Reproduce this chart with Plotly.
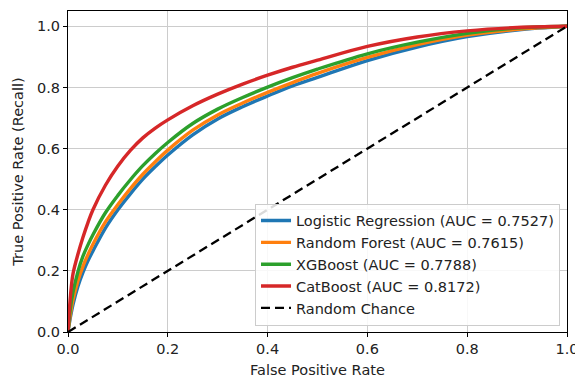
import plotly.graph_objects as go

fpr = [0, 0.005, 0.01, 0.02, 0.03, 0.04, 0.05, 0.075, 0.1, 0.125, 0.15, 0.175, 0.2, 0.25,
       0.3, 0.35, 0.4, 0.45, 0.5, 0.6, 0.7, 0.8, 0.9, 1.0]
tpr_lr = [0, 0.05, 0.09, 0.15, 0.195, 0.233, 0.265, 0.34, 0.40, 0.452, 0.50, 0.541, 0.579, 0.645,
          0.697, 0.737, 0.772, 0.805, 0.833, 0.888, 0.932, 0.966, 0.988, 1.0]
tpr_rf = [0, 0.06, 0.105, 0.168, 0.215, 0.253, 0.287, 0.36, 0.417, 0.469, 0.516, 0.557, 0.595, 0.66,
          0.71, 0.749, 0.784, 0.816, 0.846, 0.898, 0.94, 0.971, 0.99, 1.0]
tpr_xgb = [0, 0.08, 0.13, 0.198, 0.248, 0.285, 0.318, 0.39, 0.447, 0.498, 0.544, 0.584, 0.62, 0.682,
           0.729, 0.767, 0.801, 0.832, 0.86, 0.91, 0.948, 0.977, 0.994, 1.0]
tpr_cat = [0, 0.12, 0.19, 0.255, 0.31, 0.358, 0.40, 0.48, 0.543, 0.594, 0.635, 0.667, 0.694, 0.74,
           0.778, 0.811, 0.84, 0.866, 0.889, 0.934, 0.965, 0.985, 0.996, 1.0]
chance = [0, 1]

names = ["Logistic Regression (AUC = 0.7527)", "Random Forest (AUC = 0.7615)",
         "XGBoost (AUC = 0.7788)", "CatBoost (AUC = 0.8172)"]
colors = ["#1f77b4", "#ff7f0e", "#2ca02c", "#d62728"]
series = [tpr_lr, tpr_rf, tpr_xgb, tpr_cat]
ticks = [0, 0.2, 0.4, 0.6, 0.8, 1.0]

fig = go.Figure()
for name, col, ys in zip(names, colors, series):
    fig.add_trace(go.Scatter(x=fpr, y=ys, mode="lines", name=name,
                             line=dict(color=col, width=3.4, shape="spline", smoothing=1.0)))
fig.add_trace(go.Scatter(x=chance, y=chance, mode="lines", name="Random Chance",
                         line=dict(color="black", width=2.3, dash="9px,5px")))

font = dict(family="DejaVu Sans", size=14.5, color="#222")
axis_common = dict(showline=True, linecolor="black", linewidth=1, mirror=True,
                   ticks="outside", ticklen=4, tickcolor="black", tickwidth=1,
                   showgrid=True, gridcolor="#cccccc", gridwidth=1, zeroline=False,
                   tickvals=ticks, tickformat=".1f", tickfont=font,
                   ticklabeloverflow="allow", automargin=False)
fig.update_xaxes(range=[0, 1], title=dict(text="False Positive Rate", font=font, standoff=8),
                 **axis_common)
fig.update_yaxes(range=[0, 1.05], title=dict(text="True Positive Rate (Recall)", font=font, standoff=9),
                 **axis_common)
fig.update_layout(
    width=575, height=383,
    margin=dict(l=68, r=8, t=11, b=51),
    paper_bgcolor="white", plot_bgcolor="white",
    font=font, showlegend=True,
    legend=dict(x=0.986, y=0.02, xanchor="right", yanchor="bottom",
                bgcolor="rgba(255,255,255,0.85)", bordercolor="#cccccc", borderwidth=1,
                font=dict(family="DejaVu Sans", size=14.5, color="#222"),
                itemwidth=30, tracegroupgap=0),
)
fig.write_html("out.html")
